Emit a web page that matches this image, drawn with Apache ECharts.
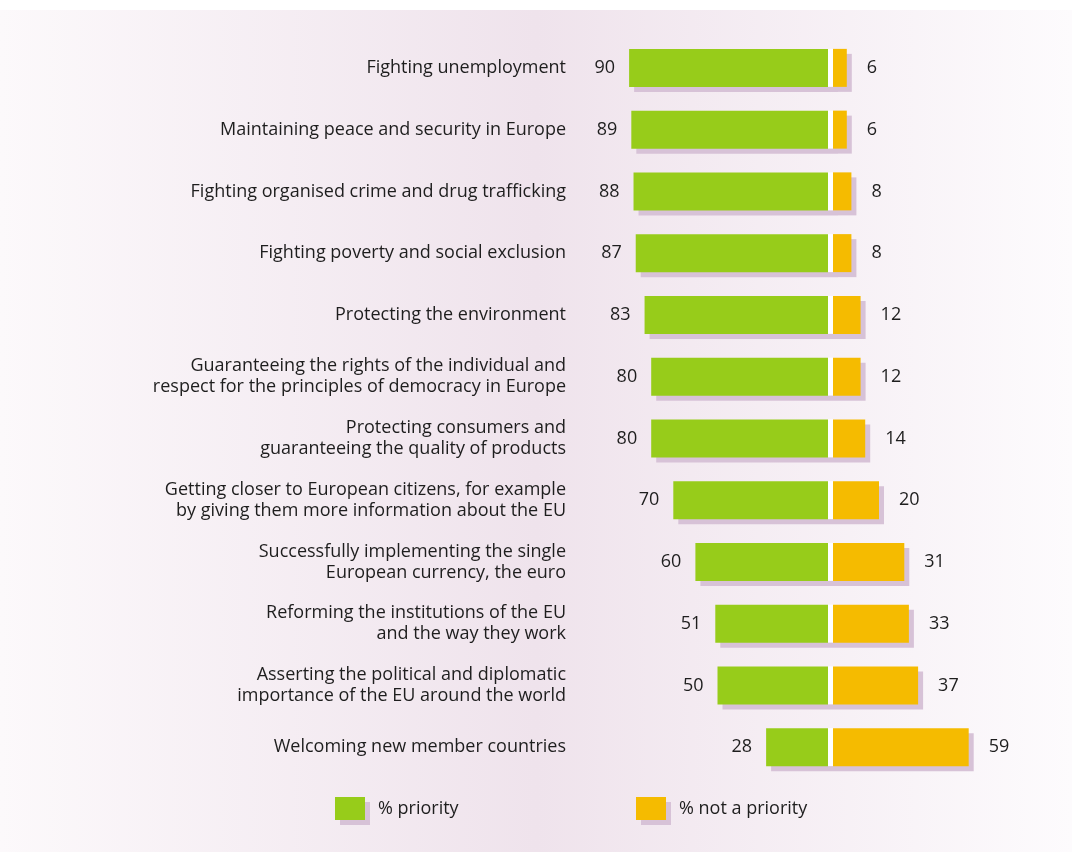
<!DOCTYPE html>
<html>
<head>
<meta charset="utf-8">
<script src="https://cdn.jsdelivr.net/npm/echarts@6/dist/echarts.min.js"></script>
<style>
  html, body { margin: 0; padding: 0; background: #ffffff; }
  #chart { width: 1072px; height: 855px; }
</style>
</head>
<body>
<div id="chart"></div>
<script>
const categories = [
  'Fighting unemployment',
  'Maintaining peace and security in Europe',
  'Fighting organised crime and drug trafficking',
  'Fighting poverty and social exclusion',
  'Protecting the environment',
  'Guaranteeing the rights of the individual and\nrespect for the principles of democracy in Europe',
  'Protecting consumers and\nguaranteeing the quality of products',
  'Getting closer to European citizens, for example\nby giving them more information about the EU',
  'Successfully implementing the single\nEuropean currency, the euro',
  'Reforming the institutions of the EU\nand the way they work',
  'Asserting the political and diplomatic\nimportance of the EU around the world',
  'Welcoming new member countries'
];
const priority = [90, 89, 88, 87, 83, 80, 80, 70, 60, 51, 50, 28];
const notPriority = [6, 6, 8, 8, 12, 12, 14, 20, 31, 33, 37, 59];
const seriesNames = ['% priority', '% not a priority'];

const GREEN = '#97cc1a';
const ORANGE = '#f5bb00';
const SHADOW = '#d7c2d7';
const TEXT = '#1e1e1e';
const FONT = 'Open Sans';
const FS = 18;
const BAR_H = 38;
const OFF = 5;
const GAP = 5;

const chart = echarts.init(document.getElementById('chart'), null, { renderer: 'canvas' });

function shadowLeft(params, api) {
  const v = api.value(0), i = api.value(1);
  const p0 = api.coord([0, i]);
  const p1 = api.coord([v, i]);
  const top = p0[1] - BAR_H / 2;
  return {
    type: 'group',
    children: [
      { type: 'rect', shape: { x: p1[0] + OFF, y: top + OFF, width: p0[0] + GAP + OFF - (p1[0] + OFF), height: BAR_H }, style: { fill: SHADOW } },
      { type: 'rect', shape: { x: p0[0], y: top, width: GAP, height: BAR_H }, style: { fill: '#ffffff' } }
    ]
  };
}
function shadowRight(params, api) {
  const v = api.value(0), i = api.value(1);
  const p0 = api.coord([0, i]);
  const p1 = api.coord([v, i]);
  const top = p0[1] - BAR_H / 2;
  return {
    type: 'rect',
    shape: { x: p0[0] + OFF, y: top + OFF, width: p1[0] - p0[0], height: BAR_H },
    style: { fill: SHADOW }
  };
}

const legendBase = {
  top: 797, itemWidth: 30, itemHeight: 23, padding: 0,
  icon: 'rect', itemGap: 0, selectedMode: false,
  itemStyle: { shadowColor: SHADOW, shadowOffsetX: 5, shadowOffsetY: 5, shadowBlur: 0 },
  textStyle: { fontFamily: FONT, fontSize: FS, color: TEXT, padding: [0, 0, 0, 8] }
};

const option = {
  animation: false,
  graphic: {
    z: -100,
    elements: [{
      type: 'rect',
      z: -100,
      shape: { x: 0, y: 10, width: 1072, height: 842 },
      style: {
        fill: new echarts.graphic.LinearGradient(0, 0, 1, 0, [
          { offset: 0, color: '#fcf9fb' },
          { offset: 0.5, color: '#efe3ec' },
          { offset: 1, color: '#fdfbfd' }
        ])
      },
      silent: true
    }]
  },
  grid: [
    { left: 607, width: 221, top: 37, height: 741 },
    { left: 833, width: 230, top: 37, height: 741 }
  ],
  xAxis: [
    { gridIndex: 0, type: 'value', min: 0, max: 100, inverse: true, show: false },
    { gridIndex: 1, type: 'value', min: 0, max: 100, show: false }
  ],
  yAxis: [
    {
      gridIndex: 0, type: 'category', data: categories, inverse: true,
      axisLine: { show: false }, axisTick: { show: false }, splitLine: { show: false },
      axisLabel: { margin: 41, fontFamily: FONT, fontSize: FS, lineHeight: 21, color: TEXT, align: 'right' }
    },
    {
      gridIndex: 1, type: 'category', data: categories, inverse: true, show: false
    }
  ],
  legend: [
    Object.assign({}, legendBase, { data: [seriesNames[0]], left: 335 }),
    Object.assign({}, legendBase, { data: [seriesNames[1]], left: 636 })
  ],
  series: [
    {
      type: 'custom', xAxisIndex: 0, yAxisIndex: 0, z: 1,
      renderItem: shadowLeft, encode: { x: 0, y: 1 },
      data: priority.map((v, i) => [v, i]), silent: true
    },
    {
      type: 'custom', xAxisIndex: 1, yAxisIndex: 1, z: 1,
      renderItem: shadowRight, encode: { x: 0, y: 1 },
      data: notPriority.map((v, i) => [v, i]), silent: true
    },
    {
      name: seriesNames[0], type: 'bar', xAxisIndex: 0, yAxisIndex: 0, z: 3,
      barWidth: BAR_H, data: priority,
      itemStyle: { color: GREEN },
      label: { show: true, position: 'left', distance: 14, fontFamily: FONT, fontSize: FS, color: TEXT }
    },
    {
      name: seriesNames[1], type: 'bar', xAxisIndex: 1, yAxisIndex: 1, z: 3,
      barWidth: BAR_H, data: notPriority,
      itemStyle: { color: ORANGE },
      label: { show: true, position: 'right', distance: 20, fontFamily: FONT, fontSize: FS, color: TEXT }
    }
  ]
};
chart.setOption(option);
</script>
</body>
</html>
